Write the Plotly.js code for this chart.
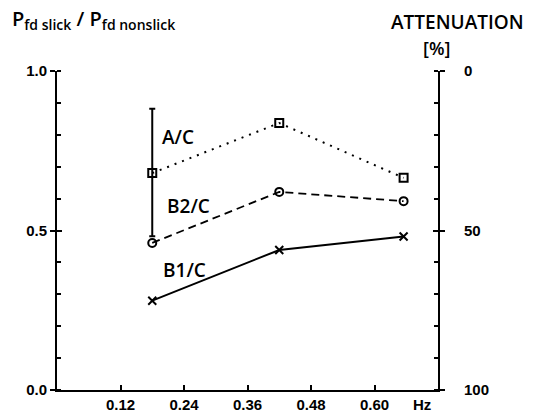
<!DOCTYPE html>
<html>
<head>
<meta charset="utf-8">
<script src="https://cdn.plot.ly/plotly-3.0.1.min.js"></script>
<style>html,body{margin:0;padding:0;background:#fff;}#chart{width:534px;height:413px;}</style>
</head>
<body>
<div id="chart"></div>
<script>
// Frequencies (Hz)
const freqs = [0.18, 0.42, 0.655];
// Ratio P_fd slick / P_fd nonslick
const seriesAC  = [0.68, 0.837, 0.665];
const seriesB2C = [0.461, 0.621, 0.592];
const seriesB1C = [0.28, 0.439, 0.481];
// Error bar on first A/C point
const errX = [0.18];
const errCenter = [0.682];
const errHalf = [0.2];
// Series labels
const labelNames = ['A/C', 'B2/C', 'B1/C'];
const labelX = [0.228, 0.249, 0.240];
const labelY = [0.793, 0.578, 0.376];
// Tick labels
const xTickVals = [0.12, 0.24, 0.36, 0.48, 0.60];
const xTickText = ['0.12', '0.24', '0.36', '0.48', '0.60'];
const yTickVals = [0, 0.5, 1.0];
const yTickText = ['0.0', '0.5', '1.0'];
const y2TickVals = [0, 50, 100];
const y2TickText = ['0', '50', '100'];

const tickFont = {family: 'Liberation Sans, Arial, sans-serif', size: 15, color: '#000', weight: 'bold'};
const labFont = {family: 'Open Sans, DejaVu Sans, sans-serif', size: 19, color: '#000', weight: 600};

const traces = [
  {x: freqs, y: seriesAC, type: 'scatter', mode: 'lines+markers',
   line: {color: '#000', width: 2, dash: '2px,6px'},
   marker: {symbol: 'square-open', size: 8, color: '#000', line: {width: 2, color: '#000'}}},
  {x: freqs, y: seriesB2C, type: 'scatter', mode: 'lines+markers',
   line: {color: '#000', width: 1.8, dash: '8px,5px'},
   marker: {symbol: 'circle-open', size: 8, color: '#000', line: {width: 2, color: '#000'}}},
  {x: freqs, y: seriesB1C, type: 'scatter', mode: 'lines+markers',
   line: {color: '#000', width: 2},
   marker: {symbol: 'x-thin-open', size: 8, color: '#000', line: {width: 2, color: '#000'}}},
  {x: errX, y: errCenter, type: 'scatter', mode: 'markers',
   marker: {opacity: 0, size: 1},
   error_y: {type: 'data', array: errHalf, visible: true, color: '#000', thickness: 2, width: 3}},
  {x: [null], y: [null], yaxis: 'y2', type: 'scatter', mode: 'markers', hoverinfo: 'skip'},
  {x: [null], y: [null], yaxis: 'y3', type: 'scatter', mode: 'markers', hoverinfo: 'skip'},
  {x: [null], y: [null], yaxis: 'y4', type: 'scatter', mode: 'markers', hoverinfo: 'skip'}
];

const annotations = labelNames.map((t, i) => ({
  x: labelX[i], y: labelY[i], xref: 'x', yref: 'y', text: t, showarrow: false,
  font: labFont, xanchor: 'center', yanchor: 'middle'
}));
annotations.push({
  xref: 'paper', yref: 'paper', x: -0.123, y: 1.16, xanchor: 'left', yanchor: 'middle',
  text: 'P<sub>fd slick</sub> / P<sub>fd nonslick</sub>', showarrow: false,
  font: {family: 'Open Sans, DejaVu Sans, sans-serif', size: 20, color: '#000', weight: 600}
});
annotations.push({
  xref: 'paper', yref: 'paper', x: 1.05, y: 1.155, xanchor: 'center', yanchor: 'middle',
  text: 'ATTENUATION', showarrow: false,
  font: {family: 'Open Sans, DejaVu Sans, sans-serif', size: 19, color: '#000', weight: 600}
});
annotations.push({
  xref: 'paper', yref: 'paper', x: 0.995, y: 1.072, xanchor: 'center', yanchor: 'middle',
  text: '[%]', showarrow: false,
  font: {family: 'Open Sans, DejaVu Sans, sans-serif', size: 18, color: '#000', weight: 600}
});
annotations.push({
  xref: 'paper', yref: 'paper', x: 0.958, y: -0.045, xanchor: 'center', yanchor: 'middle',
  text: 'Hz', showarrow: false, font: tickFont
});

const layout = {
  width: 534, height: 413,
  margin: {l: 57, r: 96, t: 71, b: 23},
  paper_bgcolor: '#fff', plot_bgcolor: '#fff',
  showlegend: false,
  xaxis: {range: [0, 0.72], tickvals: xTickVals, ticktext: xTickText,
    ticks: 'inside', ticklen: 5, tickwidth: 2, tickcolor: '#000',
    showline: true, linewidth: 2, linecolor: '#000', showgrid: false, zeroline: false,
    tickfont: tickFont, ticklabelstandoff: 0},
  yaxis: {range: [0, 1], tickvals: yTickVals, ticktext: yTickText,
    ticks: 'outside', ticklen: 5, tickwidth: 2, tickcolor: '#000',
    minor: {dtick: 0.1, ticks: 'inside', ticklen: 4, tickwidth: 2, tickcolor: '#000', showgrid: false},
    showline: true, linewidth: 2, linecolor: '#000', showgrid: false, zeroline: false,
    tickfont: tickFont},
  yaxis2: {range: [100, 0], overlaying: 'y', side: 'right', anchor: 'x',
    tickvals: y2TickVals, ticktext: y2TickText,
    ticks: 'outside', ticklen: 5, tickwidth: 2, tickcolor: '#000',
    minor: {dtick: 10, ticks: 'inside', ticklen: 4, tickwidth: 2, tickcolor: '#000', showgrid: false},
    showline: true, linewidth: 2, linecolor: '#000', showgrid: false, zeroline: false,
    tickfont: tickFont, ticklabelstandoff: 16},
  yaxis3: {range: [0, 1], overlaying: 'y', side: 'left', anchor: 'x',
    tickvals: [0.5, 1.0], ticks: 'inside', ticklen: 5, tickwidth: 2, tickcolor: '#000',
    showticklabels: false, showline: false, showgrid: false, zeroline: false},
  yaxis4: {range: [100, 0], overlaying: 'y', side: 'right', anchor: 'x',
    tickvals: [0, 50], ticks: 'inside', ticklen: 5, tickwidth: 2, tickcolor: '#000',
    showticklabels: false, showline: false, showgrid: false, zeroline: false},
  annotations: annotations
};

Plotly.newPlot('chart', traces, layout, {displayModeBar: false, staticPlot: true});
</script>
</body>
</html>
